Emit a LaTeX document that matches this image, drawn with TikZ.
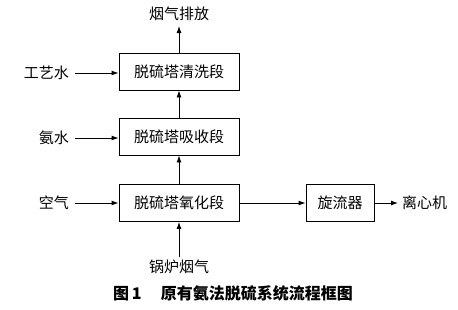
\documentclass[tikz,border=0pt]{standalone}
\usepackage{fontspec}
\newfontfamily\cjk{Noto Sans CJK SC}
\usetikzlibrary{arrows.meta}
\begin{document}
\begin{tikzpicture}[x=1pt,y=-1pt,
  box/.style={draw,line width=0.9pt,minimum width=120pt,minimum height=37pt,inner sep=0pt,font=\cjk\fontsize{15}{15}\selectfont},
  lbl/.style={inner sep=0pt,font=\cjk\fontsize{15}{15}\selectfont},
  flow/.style={line width=0.9pt,-{Latex[length=7pt,width=5pt]}}]
\useasboundingbox (0,0) rectangle (458,309);
\node[box] (b1) at (179,71.5) {脱硫塔清洗段};
\node[box] (b2) at (179,136.5) {脱硫塔吸收段};
\node[box] (b3) at (179,203) {脱硫塔氧化段};
\node[box,minimum width=68pt] (b4) at (340,203) {旋流器};
\node[lbl] (top) at (179,14) {烟气排放};
\node[lbl,anchor=east] (w) at (69,73) {工艺水};
\node[lbl,anchor=east] (n) at (69,138) {氨水};
\node[lbl,anchor=east] (a) at (69,203) {空气};
\node[lbl] (g) at (179,267) {锅炉烟气};
\node[lbl,anchor=west] (c) at (402,203) {离心机};
\node[inner sep=0pt,font=\cjk\bfseries\fontsize{16}{16}\selectfont] (cap) at (233,293) {图\,1\hspace{1.2em}原有氨法脱硫系统流程框图};
\coordinate (topend) at (179,26);
\coordinate (gstart) at (179,257);
\draw[flow] (b1.north) -- (topend);
\draw[flow] (b2.north) -- (b1.south);
\draw[flow] (b3.north) -- (b2.south);
\draw[flow] (gstart) -- (b3.south);
\draw[flow] ([xshift=6pt]w.east) -- (b1.west |- w.east);
\draw[flow] ([xshift=6pt]n.east) -- (b2.west |- n.east);
\draw[flow] ([xshift=6pt]a.east) -- (b3.west);
\draw[flow] (b3.east) -- (b4.west);
\draw[flow] (b4.east) -- ([xshift=-4pt]c.west);
\end{tikzpicture}
\end{document}
